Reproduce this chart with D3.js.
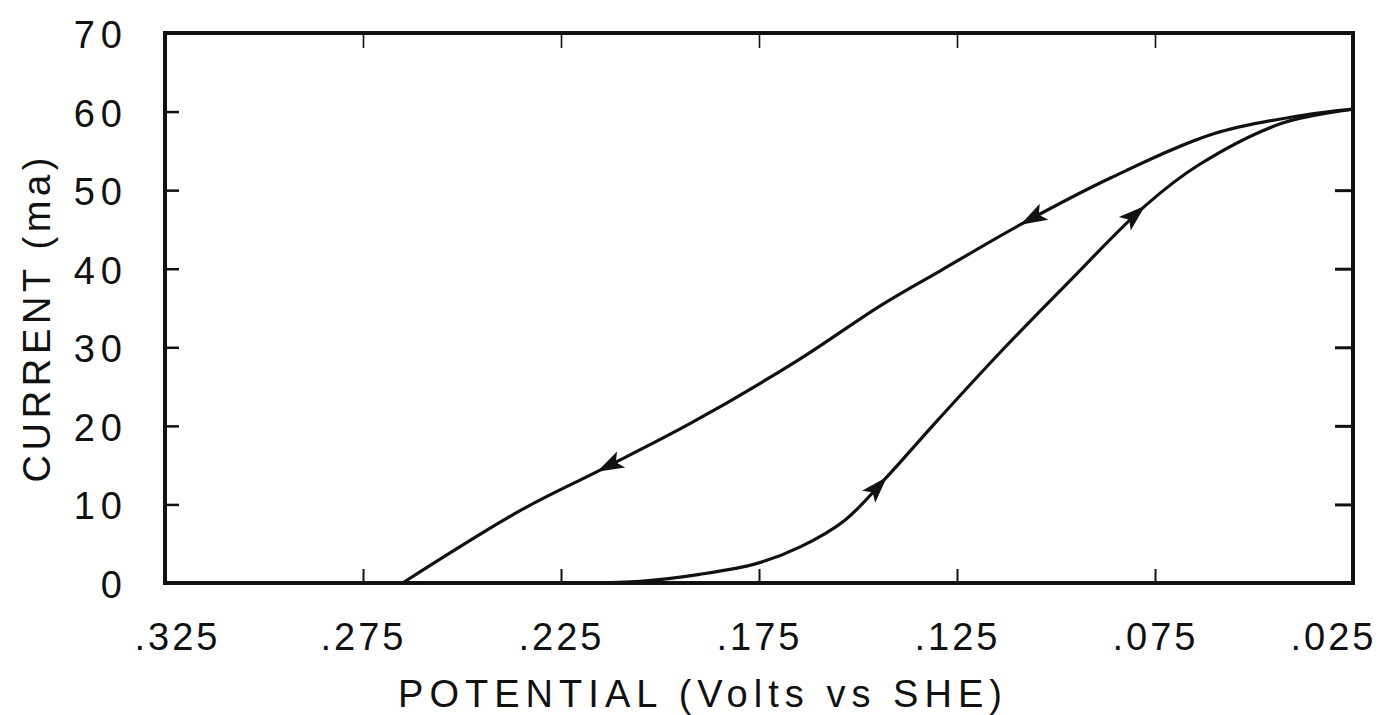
<!DOCTYPE html>
<html>
<head>
<meta charset="utf-8">
<script src="https://cdn.jsdelivr.net/npm/d3@7"></script>
<style>
  body { margin: 0; background: #fff; }
  text { font-family: "Liberation Sans", Arial, sans-serif; fill: #111; }
</style>
</head>
<body>
<script>

var width = 1387,
    height = 715,
    marginTop = 33,
    marginLeft = 165,
    marginRight = 34,
    marginBottom = 132;

// potential ticks (volts vs SHE) and current ticks (ma)
var xTicks = [0.325, 0.275, 0.225, 0.175, 0.125, 0.075, 0.025];
var yTicks = [0, 10, 20, 30, 40, 50, 60, 70];
var rightTicks = [10, 20, 30, 40, 50];

// return sweep (upper branch), potential in volts
var upperV = [0.025, 0.038, 0.060, 0.086, 0.109, 0.129, 0.144, 0.165, 0.192, 0.215, 0.235, 0.265];
var upperI = [60.3, 59.5, 57.2, 51.6, 45.6, 39.8, 35.4, 28.4, 20.4, 14.4, 9.3, 0];

// forward sweep (lower branch)
var lowerV = [0.025, 0.043, 0.064, 0.0775, 0.097, 0.114, 0.131, 0.1427, 0.1533, 0.1646, 0.1755, 0.190, 0.205, 0.218];
var lowerI = [60.3, 58.5, 53.2, 48.0, 38.2, 29.4, 20.1, 13.5, 8.0, 4.6, 2.5, 1.1, 0.2, 0];

// arrow tips (potential)
var upperArrows = [0.109, 0.2159];
var lowerArrows = [0.1427, 0.0775];

var svg = d3.select("body").append("svg")
  .attr("width", width)
  .attr("height", height);

var x = d3.scaleLinear()
  .domain([0.325, 0.025])
  .range([marginLeft, width - marginRight]);

var y = d3.scaleLinear()
  .domain([0, 70])
  .range([height - marginBottom, marginTop]);

var fmtV = function (d) { return d3.format(".3f")(d).replace(/^0/, ""); };

// bottom axis with labels
var gx = svg.append("g")
  .attr("transform", "translate(0," + y(0) + ")")
  .call(d3.axisBottom(x).tickValues(xTicks).tickSize(-14).tickPadding(40).tickFormat(fmtV));
gx.select(".domain").remove();
gx.selectAll("line").attr("stroke", "#111").attr("stroke-width", 2);
gx.selectAll("text").attr("font-size", 38).attr("fill", "#111").style("letter-spacing", "3px");
// first and last labels sit inside the frame ends
gx.selectAll("text").filter(function (d) { return d === 0.325; }).attr("dx", 12);
gx.selectAll("text").filter(function (d) { return d === 0.025; }).attr("dx", -20);

// top axis, ticks only
var gt = svg.append("g")
  .attr("transform", "translate(0," + y(70) + ")")
  .call(d3.axisTop(x).tickValues(xTicks.slice(1, -1)).tickSize(-15).tickFormat(""));
gt.select(".domain").remove();
gt.selectAll("line").attr("stroke", "#111").attr("stroke-width", 1.6);

// left axis
var gy = svg.append("g")
  .attr("transform", "translate(" + x(0.325) + ",0)")
  .call(d3.axisLeft(y).tickValues(yTicks).tickSize(-14).tickPadding(37).tickFormat(d3.format("d")));
gy.select(".domain").remove();
gy.selectAll("line").attr("stroke", "#111").attr("stroke-width", 2.5);
gy.selectAll("text").attr("font-size", 38).attr("fill", "#111").attr("dy", "0.38em").style("letter-spacing", "6px");

// right axis, ticks only
var gr = svg.append("g")
  .attr("transform", "translate(" + x(0.025) + ",0)")
  .call(d3.axisRight(y).tickValues(rightTicks).tickSize(-18).tickFormat(""));
gr.select(".domain").remove();
gr.selectAll("line").attr("stroke", "#111").attr("stroke-width", 3);

// frame
svg.append("rect")
  .attr("x", x(0.325))
  .attr("y", y(70))
  .attr("width", x(0.025) - x(0.325))
  .attr("height", y(0) - y(70))
  .attr("fill", "none")
  .attr("stroke", "#111")
  .attr("stroke-width", 4);

// curves
var line = d3.line()
  .x(function (d) { return x(d[0]); })
  .y(function (d) { return y(d[1]); })
  .curve(d3.curveCatmullRom.alpha(0.5));

function drawBranch(vs, is, tips, forward) {
  var pts = vs.map(function (v, i) { return [v, is[i]]; });
  pts.sort(function (a, b) { return x(a[0]) - x(b[0]); });
  var path = svg.append("path")
    .datum(pts)
    .attr("d", line)
    .attr("fill", "none")
    .attr("stroke", "#111")
    .attr("stroke-width", 3.2);

  var node = path.node(),
      total = node.getTotalLength();

  tips.forEach(function (v) {
    var px = x(v), lo = 0, hi = total;
    for (var k = 0; k < 40; k++) {
      var mid = (lo + hi) / 2;
      if (node.getPointAtLength(mid).x < px) lo = mid; else hi = mid;
    }
    var p = node.getPointAtLength(lo),
        a = node.getPointAtLength(Math.max(lo - 4, 0)),
        b = node.getPointAtLength(Math.min(lo + 4, total));
    var ang = Math.atan2(b.y - a.y, b.x - a.x) * 180 / Math.PI;
    if (!forward) ang += 180;
    svg.append("path")
      .attr("d", "M0,0 L-27,-9 L-21,0 L-27,9 Z")
      .attr("transform", "translate(" + p.x + "," + p.y + ") rotate(" + ang + ")")
      .attr("fill", "#111");
  });
}

drawBranch(upperV, upperI, upperArrows, false);
drawBranch(lowerV, lowerI, lowerArrows, true);

// axis titles
svg.append("text")
  .attr("x", 700)
  .attr("y", 707)
  .attr("text-anchor", "middle")
  .attr("font-size", 38)
  .attr("textLength", 604)
  .attr("lengthAdjust", "spacing")
  .text("POTENTIAL (Volts vs SHE)");

svg.append("text")
  .attr("transform", "translate(50,320) rotate(-90)")
  .attr("text-anchor", "middle")
  .attr("font-size", 38)
  .attr("textLength", 325)
  .attr("lengthAdjust", "spacing")
  .text("CURRENT (ma)");

</script>
</body>
</html>
